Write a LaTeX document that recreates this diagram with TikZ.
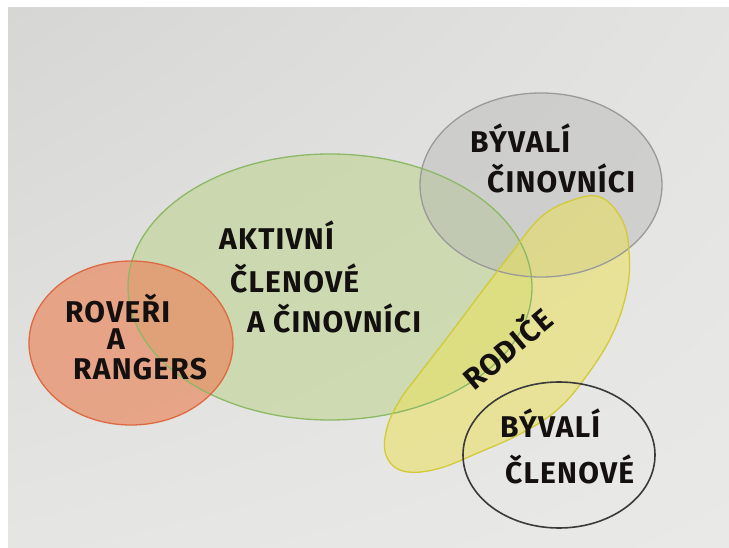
\documentclass[tikz,border=0pt]{standalone}
\usepackage{fontspec}
\setmainfont{Fira Sans}[LetterSpace=4]
\usetikzlibrary{shadings}
\definecolor{paperA}{HTML}{D6D6D4}
\definecolor{paperB}{HTML}{E9E9E7}
\definecolor{greenF}{HTML}{B8D283}
\definecolor{greenL}{HTML}{8DB865}
\definecolor{orangeF}{HTML}{E98A62}
\definecolor{orangeL}{HTML}{DD6A42}
\definecolor{grayF}{HTML}{B6B6B4}
\definecolor{grayL}{HTML}{9A9A98}
\definecolor{yellowF}{HTML}{EBE05A}
\definecolor{yellowL}{HTML}{D2CA3A}
\definecolor{blackL}{HTML}{3A3A3A}
\definecolor{ink}{HTML}{141010}
\tikzset{
  hand/.style={font=\fontsize{30}{36}\selectfont\bfseries, text=ink, inner sep=0pt, anchor=base west},
  setline/.style={line width=1.3pt, line join=round}
}
\begin{document}
\begin{tikzpicture}[x=1pt,y=-1pt]
\useasboundingbox (0,0) rectangle (729,548);
\fill[white] (0,0) rectangle (729,548);
\shade[upper left=paperA, upper right=paperB!70!paperA, lower left=paperB!80!paperA, lower right=paperB] (8,8) rectangle (729,548);
\def\yellowpath{plot[smooth cycle, tension=0.65] coordinates {
  (600,197) (622,220) (629,252) (627,290) (612,335) (585,378) (557,410) (522,433)
  (480,452) (437,469) (403,471) (386,455) (387,428) (400,400) (420,373) (450,334)
  (480,294) (510,255) (540,218) (570,201)}}
% fills
\fill[greenF, fill opacity=0.5] (330,287) ellipse [x radius=202, y radius=133];
\fill[orangeF, fill opacity=0.7] (131,343) ellipse [x radius=102, y radius=82];
\fill[grayF, fill opacity=0.45] (541,185) ellipse [x radius=121, y radius=92];
\fill[yellowF, fill opacity=0.55] \yellowpath;
% outlines
\draw[setline, greenL] (330,287) ellipse [x radius=202, y radius=133];
\draw[setline, orangeL] (131,343) ellipse [x radius=102, y radius=82];
\draw[setline, grayL] (541,185) ellipse [x radius=121, y radius=92];
\draw[setline, yellowL] \yellowpath;
\draw[line width=1.6pt, blackL] (559,455) ellipse [x radius=96, y radius=73];
% texts
\node[hand] (act1) at (219,250) {AKTIVNÍ};
\node[hand] (act2) at (230,293) {ČLENOVÉ};
\node[hand] (act3) at (247,333) {A ČINOVNÍCI};
\node[hand] (rov1) at (65,323) {ROVEŘI};
\node[hand] (rov2) at (107,350) {A};
\node[hand] (rov3) at (73,380) {RANGERS};
\node[hand] (bc1) at (470,153) {BÝVALÍ};
\node[hand] (bc2) at (487,193) {ČINOVNÍCI};
\node[hand] (bm1) at (500,437) {BÝVALÍ};
\node[hand] (bm2) at (505,483) {ČLENOVÉ};
\node[hand, anchor=center, rotate=40] (rod) at (506,347) {RODIČE};
\end{tikzpicture}
\end{document}
